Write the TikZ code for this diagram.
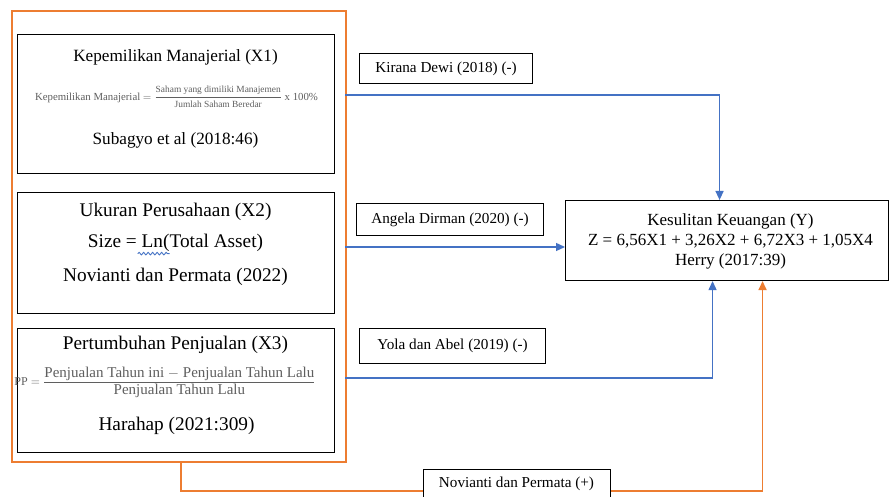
\documentclass[tikz,border=0pt]{standalone}
\usepackage{fontspec}
\usepackage{amsmath}
\setmainfont{Liberation Serif}
\usetikzlibrary{arrows.meta,decorations.pathmorphing}
\definecolor{orng}{RGB}{237,125,49}
\definecolor{blu}{RGB}{68,114,196}
\definecolor{fgray}{RGB}{95,95,95}
\begin{document}
\begin{tikzpicture}[x=1pt,y=-1pt,
  boxnode/.style={draw=black,line width=1.1pt,rectangle,inner sep=0pt,anchor=north west,fill=white},
  outerbox/.style={draw=orng,line width=1.7pt,rectangle,inner sep=0pt,anchor=north west},
  txt/.style={inner sep=0pt,anchor=center,align=center},
  tA/.style={txt,font=\fontsize{17.2}{20}\selectfont},
  tB/.style={txt,font=\fontsize{19.3}{22}\selectfont},
  tL/.style={font=\fontsize{15.2}{18}\selectfont},
  bluline/.style={draw=blu,line width=1.3pt,-{Triangle[length=9pt,width=8pt]}},
  orline/.style={draw=orng,line width=1.6pt,-{Triangle[length=9pt,width=8pt]}}]
\path[use as bounding box] (0,0) rectangle (889,497);
\clip (0,0) rectangle (889,497);
\fill[white] (0,0) rectangle (889,497);

% outer orange frame
\node[outerbox,minimum width=334pt,minimum height=451pt] (outer) at (11,10) {};

% independent variable boxes
\node[boxnode,minimum width=317pt,minimum height=139pt] (X1) at (17,34) {};
\node[boxnode,minimum width=317pt,minimum height=121pt] (X2) at (17,192) {};
\node[boxnode,minimum width=317pt,minimum height=124pt] (X3) at (17,328) {};

% dependent box
\node[boxnode,minimum width=323pt,minimum height=80pt] (Y) at (565,200) {};

% texts X1
\node[tA] (x1a) at (175.5,57) {Kepemilikan Manajerial (X1)};
\node[txt,text=fgray,font=\fontsize{10.8}{12}\selectfont] (x1b) at (176.5,97)
  {Kepemilikan Manajerial $=\dfrac{\text{\fontsize{9.4}{11}\selectfont Saham yang dimiliki Manajemen}}{\text{\fontsize{9.4}{11}\selectfont Jumlah Saham Beredar}}$ x 100\%};
\node[tA] (x1c) at (175.5,140) {Subagyo et al (2018:46)};

% texts X2
\node[tB] (x2a) at (175.5,212) {Ukuran Perusahaan (X2)};
\node[tB] (x2b) at (175.5,243) {Size = Ln(Total Asset)};
\node[tB] (x2c) at (175.5,277) {Novianti dan Permata (2022)};
\draw[blu,line width=0.9pt,decorate,decoration={snake,segment length=4.5pt,amplitude=1.3pt}]
  ([xshift=50pt,yshift=-6pt]x2b.base west) -- ++(32,0);

% texts X3
\node[tB] (x3a) at (175.5,345) {Pertumbuhan Penjualan (X3)};
\node[txt,text=fgray,font=\fontsize{12}{14}\selectfont] (x3b) at (165,382)
  {PP $=\dfrac{\text{\fontsize{15}{17}\selectfont Penjualan Tahun ini $-$ Penjualan Tahun Lalu}}{\text{\fontsize{15}{17}\selectfont Penjualan Tahun Lalu}}$};
\node[tB] (x3c) at (176.5,426) {Harahap (2021:309)};

% text Y
\node[txt,font=\fontsize{17}{20}\selectfont] (ytext) at (730.5,241)
  {Kesulitan Keuangan (Y)\\Z = 6,56X1 + 3,26X2 + 6,72X3 + 1,05X4\\Herry (2017:39)};

% connectors
\coordinate (k0) at (345,95);
\coordinate (a0) at (345,247);
\coordinate (y0) at (345,378);
\draw[bluline] (k0) -| ([xshift=-7.5pt]Y.north);
\draw[bluline] (a0) -- (a0 -| Y.west);
\draw[bluline] (y0) -| ([xshift=-14.5pt]Y.south);
\draw[orline] ([xshift=2pt]outer.south) -- ++(0,28) -| ([xshift=35.5pt]Y.south);

% connector labels
\node[boxnode,tL,minimum width=173pt,minimum height=30pt] (lk) at (359,53) {Kirana Dewi (2018) (-)};
\node[boxnode,tL,minimum width=187pt,minimum height=32pt] (la) at (356,203) {Angela Dirman (2020) (-)};
\node[boxnode,tL,minimum width=186pt,minimum height=35pt] (ly) at (359,328) {Yola dan Abel (2019) (-)};
\node[boxnode,minimum width=187pt,minimum height=40pt] (ln) at (423,469) {};
\node[txt,tL] (lnt) at (516.5,484) {Novianti dan Permata (+)};
\end{tikzpicture}
\end{document}
